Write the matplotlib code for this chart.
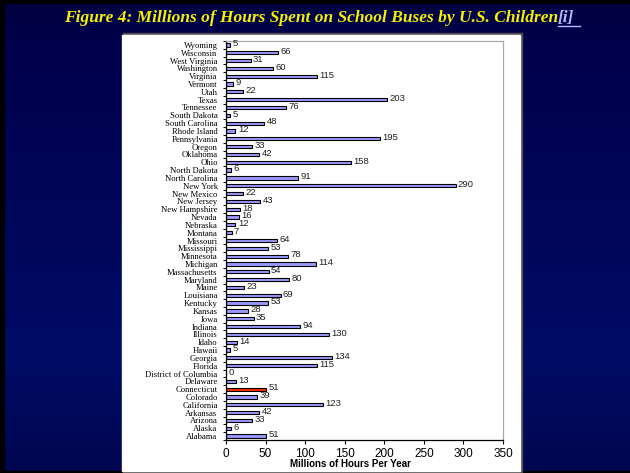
import numpy as np
import matplotlib.pyplot as plt
from matplotlib.patches import Rectangle
from matplotlib.lines import Line2D

# states listed bottom -> top, as in the chart
states = ['Alabama', 'Alaska', 'Arizona', 'Arkansas', 'California', 'Colorado',
          'Connecticut', 'Delaware', 'District of Columbia', 'Florida', 'Georgia',
          'Hawaii', 'Idaho', 'Illinois', 'Indiana', 'Iowa', 'Kansas', 'Kentucky',
          'Louisiana', 'Maine', 'Maryland', 'Massachusetts', 'Michigan', 'Minnesota',
          'Mississippi', 'Missouri', 'Montana', 'Nebraska', 'Nevada', 'New Hampshire',
          'New Jersey', 'New Mexico', 'New York', 'North Carolina', 'North Dakota',
          'Ohio', 'Oklahoma', 'Oregon', 'Pennsylvania', 'Rhode Island',
          'South Carolina', 'South Dakota', 'Tennessee', 'Texas', 'Utah', 'Vermont',
          'Virginia', 'Washington', 'West Virginia', 'Wisconsin', 'Wyoming']
hours = [51, 6, 33, 42, 123, 39, 51, 13, 0, 115, 134, 5, 14, 130, 94, 35, 28, 53,
         69, 23, 80, 54, 114, 78, 53, 64, 7, 12, 16, 18, 43, 22, 290, 91, 6, 158,
         42, 33, 195, 12, 48, 5, 76, 203, 22, 9, 115, 60, 31, 66, 5]
highlight = 'Connecticut'
xticks = [0, 50, 100, 150, 200, 250, 300, 350]

W, H = 630, 473
fig = plt.figure(figsize=(6.3, 4.73), dpi=100)


def fx(x):
    return x / W


def fy(y):
    return 1 - y / H


# slide background: navy gradient
bg = fig.add_axes([0, 0, 1, 1], zorder=-10)
bg.set_axis_off()
ys = np.linspace(0, 1, 200)
stops = [0.0, 0.1, 0.75, 1.0]
r = np.interp(ys, stops, [0, 0, 0, 0])
g = np.interp(ys, stops, [0x00, 0x00, 0x0c, 0x06]) / 255
b = np.interp(ys, stops, [0x42, 0x4c, 0x66, 0x50]) / 255
grad = np.stack([r, g, b], axis=1)[:, None, :]
bg.imshow(grad, aspect='auto', extent=[0, 1, 0, 1], origin='upper')
bg.set_xlim(0, 1)
bg.set_ylim(0, 1)
# black frame strips
bg.add_patch(Rectangle((0, fy(3.5)), 1, 1, color='black'))
bg.add_patch(Rectangle((0, 0), fx(4), 1, color='black'))
bg.add_patch(Rectangle((0, 0), 1, 1 - fy(2), color='black'))

# white chart panel with a dark shadow
bg.add_patch(Rectangle((fx(123), fy(472)), fx(522) - fx(123), fy(33) - fy(472),
                       color='#505050'))
bg.add_patch(Rectangle((fx(122), fy(471)), fx(520) - fx(122), fy(34.5) - fy(471),
                       color='white'))

# title
ty = fy(18)
x_end = fx(558)
fig.text(x_end, ty, 'Figure 4: Millions of Hours Spent on School Buses by U.S. Children',
         ha='right', va='center', color='#f5f000', fontsize=12.5,
         family='Liberation Serif', weight='bold', style='italic')
fig.text(x_end, ty, '[i]', ha='left', va='center', color='#b8b8ff', fontsize=12.5,
         family='Liberation Serif', weight='bold', style='italic')
fig.add_artist(Line2D([fx(558), fx(580)], [fy(26.5), fy(26.5)], color='#b8b8ff', lw=1))

# chart
ax = fig.add_axes([fx(226), fy(440), fx(503) - fx(226), fy(41) - fy(440)])
pos = np.arange(len(states))
colors = ['#ff2a00' if s == highlight else '#9999ff' for s in states]
ax.barh(pos, hours, height=0.42, color=colors, edgecolor='black', linewidth=0.8)
for p, v in zip(pos, hours):
    ax.text(v + 3, p + 0.15, str(v), fontsize=6.8, va='center', ha='left',
            family='Liberation Sans', color='#202020')

ax.set_xlim(0, 350)
ax.set_ylim(-0.5, len(states) - 0.5)
ax.set_yticks(pos)
ax.set_yticklabels(states, family='Liberation Serif', fontsize=6.2)
ax.set_yticks(np.arange(-0.5, len(states)), minor=True)
ax.tick_params(axis='y', which='major', length=0, pad=6)
ax.tick_params(axis='y', which='minor', length=2.5, width=0.7, direction='out')
ax.set_xticks(xticks)
ax.set_xticklabels([str(t) for t in xticks], family='Liberation Sans', fontsize=8.5)
ax.tick_params(axis='x', length=3, width=0.8, direction='out', pad=3)
ax.set_xlabel('Millions of Hours Per Year', family='Liberation Sans', fontsize=7,
              weight='bold')
ax.xaxis.set_label_coords((350 - 226) / 277, -0.048)

for side in ['left', 'bottom']:
    ax.spines[side].set_color('black')
    ax.spines[side].set_linewidth(0.9)
for side in ['top', 'right']:
    ax.spines[side].set_color('#a8a8a8')
    ax.spines[side].set_linewidth(0.9)

fig.savefig('out.png', dpi=100)
